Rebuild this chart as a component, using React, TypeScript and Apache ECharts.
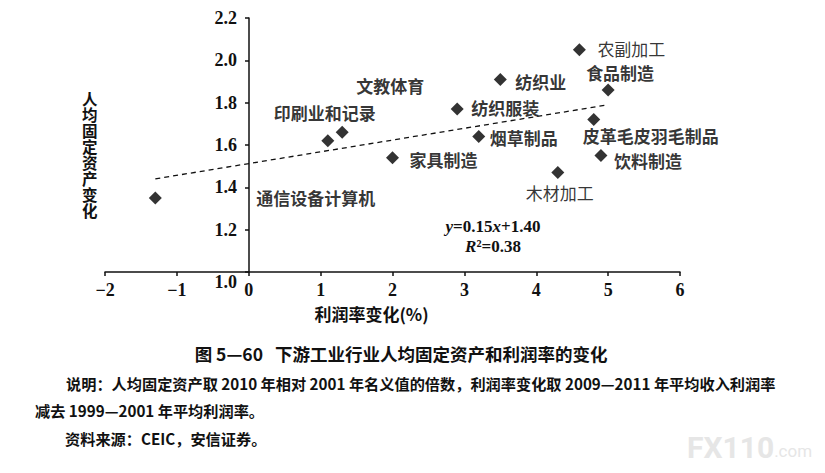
import React, { useEffect, useRef } from "react";
import * as echarts from "echarts";

// ---- data ----
const industries = [
  "通信设备计算机",
  "印刷业和记录",
  "文教体育",
  "家具制造",
  "纺织服装",
  "烟草制品",
  "纺织业",
  "木材加工",
  "农副加工",
  "皮革毛皮羽毛制品",
  "饮料制造",
  "食品制造",
];
const profitChange = [-1.3, 1.1, 1.3, 2.0, 2.9, 3.2, 3.5, 4.3, 4.6, 4.8, 4.9, 5.0];
const assetChange = [1.35, 1.62, 1.66, 1.54, 1.77, 1.64, 1.91, 1.47, 2.05, 1.72, 1.55, 1.86];
const trendX = [-1.3, 5.0];
const trendY = [1.44, 1.79];
const yAxisTitleChars = ["人", "均", "固", "定", "资", "产", "变", "化"];

// ---- label layout (pixels, relative to marker centre) ----
const labelLayout: Array<{ align: string; dx: number; dy: number; weight: string }> = [
  { align: "left", dx: 101, dy: 0, weight: "bold" },
  { align: "center", dx: -3, dy: -28, weight: "bold" },
  { align: "center", dx: 48, dy: -47, weight: "bold" },
  { align: "left", dx: 17, dy: 2, weight: "bold" },
  { align: "left", dx: 14, dy: -2, weight: "bold" },
  { align: "left", dx: 11, dy: 1, weight: "bold" },
  { align: "left", dx: 15, dy: 2, weight: "bold" },
  { align: "center", dx: 2, dy: 20, weight: "normal" },
  { align: "left", dx: 18, dy: -1, weight: "normal" },
  { align: "center", dx: 57, dy: 16, weight: "bold" },
  { align: "left", dx: 13, dy: 5, weight: "bold" },
  { align: "center", dx: 12, dy: -17, weight: "bold" },
];

const CJK = '"Noto Sans CJK SC", "Noto Sans", sans-serif';
const SERIF = '"Liberation Serif", "DejaVu Serif", serif';

export default function App() {
  const ref = useRef<HTMLDivElement>(null);

  useEffect(() => {
    if (!ref.current) return;
    const chart = echarts.init(ref.current, undefined, { renderer: "svg" });

    const scatterData = industries.map((name, i) => ({
      name,
      value: [profitChange[i], assetChange[i]],
      label: {
        show: true,
        position: "inside",
        formatter: name,
        align: labelLayout[i].align,
        verticalAlign: "middle",
        offset: [labelLayout[i].dx, labelLayout[i].dy],
        fontFamily: CJK,
        fontSize: 17,
        fontWeight: labelLayout[i].weight,
        color: "#000",
      },
    }));

    const option: any = {
      animation: false,
      backgroundColor: "#ffffff",
      grid: { left: 105, right: 145, top: 18, bottom: 201, containLabel: false },
      xAxis: {
        type: "value",
        min: -2,
        max: 6,
        interval: 1,
        name: "利润率变化(%)",
        nameLocation: "middle",
        nameGap: 33,
        nameTextStyle: {
          fontFamily: CJK,
          fontSize: 17,
          fontWeight: "bold",
          color: "#111",
          padding: [0, 42, 0, 0],
        },
        axisLine: { show: true, onZero: false, lineStyle: { color: "#111", width: 1.5 } },
        axisTick: { show: true, inside: false, length: 4, lineStyle: { color: "#111", width: 1.5 } },
        axisLabel: {
          margin: 9,
          fontFamily: SERIF,
          fontSize: 18,
          fontWeight: "bold",
          color: "#111",
          formatter: (v: number) => (v < 0 ? "\u2212" + Math.abs(v) : String(v)),
        },
        splitLine: { show: false },
      },
      yAxis: {
        type: "value",
        min: 1.0,
        max: 2.2,
        interval: 0.2,
        offset: -144,
        axisLine: { show: true, onZero: false, lineStyle: { color: "#111", width: 1.5 } },
        axisTick: { show: true, inside: false, length: 4, lineStyle: { color: "#111", width: 1.5 } },
        axisLabel: {
          margin: 12,
          fontFamily: SERIF,
          fontSize: 18,
          fontWeight: "bold",
          color: "#111",
          formatter: (v: number) =>
            Math.abs(v - 1) < 1e-9 ? "{low|" + v.toFixed(1) + "}" : v.toFixed(1),
          rich: {
            low: {
              fontFamily: SERIF,
              fontSize: 18,
              fontWeight: "bold",
              color: "#111",
              padding: [20, 0, 0, 0],
            },
          },
        },
        splitLine: { show: false },
      },
      series: [
        {
          type: "line",
          data: trendX.map((x, i) => [x, trendY[i]]),
          symbol: "none",
          lineStyle: { color: "#111", width: 1.3, type: [5, 4] },
          silent: true,
          z: 1,
        },
        {
          type: "scatter",
          symbol: "diamond",
          symbolSize: 13,
          itemStyle: { color: "#000" },
          data: scatterData,
          z: 2,
        },
      ],
      graphic: [
        {
          type: "text",
          left: 82,
          top: 90,
          style: {
            text: yAxisTitleChars.join("\n"),
            fontFamily: CJK,
            fontSize: 15.5,
            lineHeight: 16,
            fontWeight: "bold",
            fill: "#111",
          },
        },
        {
          type: "text",
          x: 493,
          y: 226,
          style: {
            text: "{i|y}=0.15{i|x}+1.40",
            align: "center",
            verticalAlign: "middle",
            fontFamily: SERIF,
            fontSize: 17,
            fontWeight: "bold",
            fill: "#111",
            rich: {
              i: { fontFamily: SERIF, fontSize: 17, fontWeight: "bold", fontStyle: "italic", fill: "#111" },
            },
          },
        },
        {
          type: "text",
          x: 493,
          y: 246,
          style: {
            text: "{i|R}²=0.38",
            align: "center",
            verticalAlign: "middle",
            fontFamily: SERIF,
            fontSize: 17,
            fontWeight: "bold",
            fill: "#111",
            rich: {
              i: { fontFamily: SERIF, fontSize: 17, fontWeight: "bold", fontStyle: "italic", fill: "#111" },
            },
          },
        },
        {
          type: "text",
          x: 401,
          y: 353,
          style: {
            text: "图 5—60   下游工业行业人均固定资产和利润率的变化",
            align: "center",
            verticalAlign: "middle",
            fontFamily: CJK,
            fontSize: 17.5,
            fontWeight: "bold",
            fill: "#111",
          },
        },
        {
          type: "text",
          x: 66,
          y: 383,
          style: {
            text: "说明：人均固定资产取 2010 年相对 2001 年名义值的倍数，利润率变化取 2009—2011 年平均收入利润率",
            align: "left",
            verticalAlign: "middle",
            fontFamily: CJK,
            fontSize: 15.2,
            fontWeight: "bold",
            fill: "#111",
          },
        },
        {
          type: "text",
          x: 35,
          y: 410,
          style: {
            text: "减去 1999—2001 年平均利润率。",
            align: "left",
            verticalAlign: "middle",
            fontFamily: CJK,
            fontSize: 15.2,
            fontWeight: "bold",
            fill: "#111",
          },
        },
        {
          type: "text",
          x: 65,
          y: 438,
          style: {
            text: "资料来源：CEIC，安信证券。",
            align: "left",
            verticalAlign: "middle",
            fontFamily: CJK,
            fontSize: 15.2,
            fontWeight: "bold",
            fill: "#111",
          },
        },
        {
          type: "text",
          x: 687,
          y: 447,
          style: {
            text: "{b|FX110}{s|.com}",
            align: "left",
            verticalAlign: "middle",
            rich: {
              b: { fontFamily: "Roboto, sans-serif", fontSize: 30, fontWeight: "bold", fill: "#e6e6e6" },
              s: { fontFamily: "Roboto, sans-serif", fontSize: 17, fill: "#e6e6e6", padding: [8, 0, 0, 0] },
            },
          },
        },
      ],
    };

    chart.setOption(option);
    return () => chart.dispose();
  }, []);

  return (
    <div
      ref={ref}
      style={{ position: "fixed", left: 0, top: 0, width: 825, height: 473, background: "#fff" }}
    />
  );
}
